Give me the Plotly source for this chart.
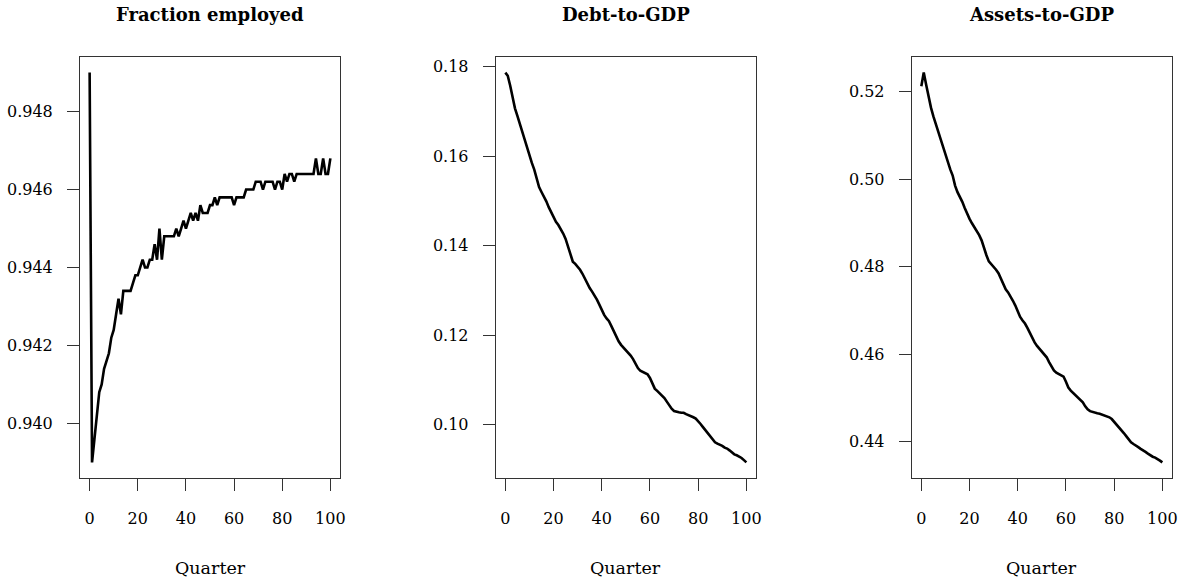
import plotly.graph_objects as go

quarters = list(range(0, 101))

fraction_employed = [
    0.9490, 0.9390, 0.9396, 0.9402, 0.9408, 0.9410, 0.9414, 0.9416, 0.9418, 0.9422,
    0.9424, 0.9428, 0.9432, 0.9428, 0.9434, 0.9434, 0.9434, 0.9434, 0.9436, 0.9438,
    0.9438, 0.9440, 0.9442, 0.9440, 0.9440, 0.9442, 0.9442, 0.9446, 0.9442, 0.9450,
    0.9442, 0.9448, 0.9448, 0.9448, 0.9448, 0.9448, 0.9450, 0.9448, 0.9450, 0.9452,
    0.9450, 0.9452, 0.9454, 0.9452, 0.9454, 0.9452, 0.9456, 0.9454, 0.9454, 0.9454,
    0.9456, 0.9456, 0.9458, 0.9456, 0.9458, 0.9458, 0.9458, 0.9458, 0.9458, 0.9458,
    0.9456, 0.9458, 0.9458, 0.9458, 0.9458, 0.9460, 0.9460, 0.9460, 0.9460, 0.9462,
    0.9462, 0.9462, 0.9460, 0.9462, 0.9462, 0.9462, 0.9462, 0.9460, 0.9462, 0.9462,
    0.9460, 0.9464, 0.9462, 0.9464, 0.9464, 0.9462, 0.9464, 0.9464, 0.9464, 0.9464,
    0.9464, 0.9464, 0.9464, 0.9464, 0.9468, 0.9464, 0.9464, 0.9468, 0.9464, 0.9464,
    0.9468,
]

debt_to_gdp = [
    0.1787, 0.1780, 0.1758, 0.1731, 0.1707, 0.1690, 0.1672, 0.1656, 0.1640, 0.1623,
    0.1602, 0.1585, 0.1570, 0.1553, 0.1531, 0.1520, 0.1510, 0.1499, 0.1486, 0.1474,
    0.1463, 0.1453, 0.1446, 0.1437, 0.1427, 0.1415, 0.1398, 0.1380, 0.1364, 0.1359,
    0.1353, 0.1346, 0.1337, 0.1326, 0.1314, 0.1305, 0.1297, 0.1289, 0.1279, 0.1268,
    0.1256, 0.1245, 0.1237, 0.1231, 0.1220, 0.1209, 0.1196, 0.1186, 0.1178, 0.1172,
    0.1166, 0.1161, 0.1154, 0.1146, 0.1135, 0.1126, 0.1120, 0.1117, 0.1115, 0.1112,
    0.1104, 0.1090, 0.1080, 0.1075, 0.1070, 0.1065, 0.1059, 0.1051, 0.1042, 0.1035,
    0.1030, 0.1028, 0.1027, 0.1026, 0.1026, 0.1023, 0.1021, 0.1019, 0.1016, 0.1013,
    0.1008, 0.1001, 0.0994, 0.0987, 0.0980, 0.0973, 0.0966, 0.0960, 0.0957, 0.0955,
    0.0952, 0.0948, 0.0946, 0.0942, 0.0937, 0.0933, 0.0931, 0.0928, 0.0925, 0.0920,
    0.0915,
]

assets_to_gdp = [
    0.5212, 0.5243, 0.5215, 0.5185, 0.5163, 0.5143, 0.5125, 0.5108, 0.5091, 0.5075,
    0.5057, 0.5039, 0.5022, 0.5008, 0.4985, 0.4970, 0.4960, 0.4948, 0.4934, 0.4920,
    0.4909, 0.4899, 0.4890, 0.4883, 0.4872, 0.4860, 0.4842, 0.4826, 0.4812, 0.4806,
    0.4800, 0.4793, 0.4785, 0.4773, 0.4759, 0.4748, 0.4741, 0.4733, 0.4722, 0.4711,
    0.4697, 0.4685, 0.4677, 0.4670, 0.4660, 0.4648, 0.4636, 0.4627, 0.4619, 0.4613,
    0.4607, 0.4600, 0.4593, 0.4582, 0.4571, 0.4563, 0.4558, 0.4555, 0.4553, 0.4549,
    0.4537, 0.4524, 0.4517, 0.4512, 0.4507, 0.4502, 0.4497, 0.4490, 0.4481, 0.4474,
    0.4470, 0.4468, 0.4467, 0.4465, 0.4464, 0.4462, 0.4460, 0.4458, 0.4456, 0.4452,
    0.4446, 0.4439, 0.4432, 0.4426, 0.4420, 0.4413, 0.4406, 0.4399, 0.4395, 0.4392,
    0.4388, 0.4384, 0.4381, 0.4377, 0.4373, 0.4369, 0.4366, 0.4364, 0.4361, 0.4357,
    0.4353,
]

titles = ["Fraction employed", "Debt-to-GDP", "Assets-to-GDP"]
x_label = "Quarter"
x_ticks = [0, 20, 40, 60, 80, 100]
y_ticks = [
    [0.940, 0.942, 0.944, 0.946, 0.948],
    [0.10, 0.12, 0.14, 0.16, 0.18],
    [0.44, 0.46, 0.48, 0.50, 0.52],
]
y_tick_text = [
    ["0.940", "0.942", "0.944", "0.946", "0.948"],
    ["0.10", "0.12", "0.14", "0.16", "0.18"],
    ["0.44", "0.46", "0.48", "0.50", "0.52"],
]
series = [fraction_employed, debt_to_gdp, assets_to_gdp]

W, H = 1183, 582
FONT = "DejaVu Serif"
box_px = [(80, 340), (495.7, 756), (911.7, 1172)]
y_top_px, y_bot_px = 57, 478

def r_range(vals):
    lo, hi = min(vals), max(vals)
    pad = 0.04 * (hi - lo)
    return [lo - pad, hi + pad]

fig = go.Figure()
layout = dict(
    width=W, height=H,
    margin=dict(l=0, r=0, t=0, b=0),
    paper_bgcolor="white", plot_bgcolor="white",
    showlegend=False,
    font=dict(family=FONT, size=16, color="black"),
    annotations=[],
)

ydom = [1 - y_bot_px / H, 1 - y_top_px / H]
for i, (vals, (x0, x1)) in enumerate(zip(series, box_px)):
    sfx = "" if i == 0 else str(i + 1)
    fig.add_trace(go.Scatter(
        x=quarters, y=vals, mode="lines",
        line=dict(color="black", width=2.6),
        xaxis="x" + sfx, yaxis="y" + sfx, hoverinfo="skip",
    ))
    common = dict(showline=True, mirror=True, linecolor="#333", linewidth=1,
                  ticks="outside", ticklen=12, tickwidth=1, tickcolor="#333",
                  showgrid=False, zeroline=False, automargin=False,
                  tickfont=dict(family=FONT, size=16, color="black"))
    layout["xaxis" + sfx] = dict(
        domain=[x0 / W, x1 / W], anchor="y" + sfx,
        range=r_range(quarters), tickvals=x_ticks, ticktext=[str(t) for t in x_ticks],
        ticklabelstandoff=14, **common)
    layout["yaxis" + sfx] = dict(
        domain=ydom, anchor="x" + sfx,
        range=r_range(vals), tickvals=y_ticks[i], ticktext=y_tick_text[i],
        ticklabelstandoff=11, **common)
    xc = (x0 + x1) / 2 / W
    layout["annotations"].append(dict(
        text="<b>" + titles[i] + "</b>", x=xc, y=1 - 14 / H, xref="paper", yref="paper",
        xanchor="center", yanchor="middle", showarrow=False,
        font=dict(family=FONT, size=18, color="black")))
    layout["annotations"].append(dict(
        text=x_label, x=xc, y=1 - 568 / H, xref="paper", yref="paper",
        xanchor="center", yanchor="middle", showarrow=False,
        font=dict(family=FONT, size=17.5, color="black")))

fig.update_layout(**layout)
fig.write_html("out.html")
